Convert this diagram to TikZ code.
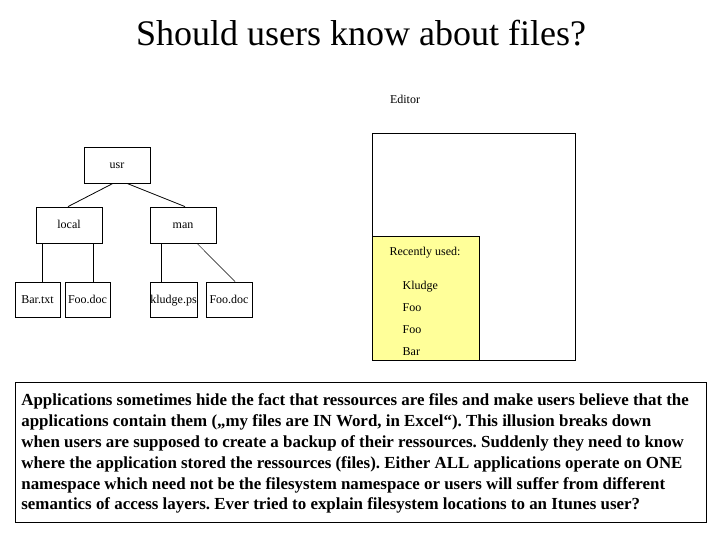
\documentclass[tikz,border=0pt]{standalone}
\usepackage{fontspec}
\setmainfont{Liberation Serif}
\usetikzlibrary{calc}
\definecolor{memo}{RGB}{255,255,153}
\frenchspacing
\begin{document}
\begin{tikzpicture}[x=1pt,y=-1pt,line width=0.8pt,
  dir/.style={draw,inner sep=0pt,minimum width=66pt,minimum height=36pt,text height=8pt,text depth=0pt,font=\fontsize{12}{14}\selectfont},
  file/.style={draw,inner sep=0pt,minimum height=35pt,text height=8pt,text depth=0pt,font=\fontsize{12}{14}\selectfont},
  small/.style={font=\fontsize{12}{14}\selectfont}]
 \useasboundingbox (0,0) rectangle (720,540);
 \node[font=\fontsize{36}{43}\selectfont] (title) at (361,33) {Should users know about files?};
 % tree
 \node[dir] (usr) at (117,165) {usr};
 \node[dir] (local) at (69,225) {local};
 \node[dir] (man) at (183,225) {man};
 \node[file,minimum width=45pt] (bartxt) at (37.5,299.5) {Bar.txt};
 \node[file,minimum width=45pt] (foodoc) at (87.5,299.5) {Foo.doc};
 \node[file,minimum width=47pt] (kludgeps) at (173.5,299.5) {kludge.ps};
 \node[file,minimum width=46pt] (foodocb) at (229,299.5) {Foo.doc};
 \draw ($(usr.south west)!0.44!(usr.south east)$) -- ($(local.north west)!0.485!(local.north east)$);
 \draw ($(usr.south west)!0.65!(usr.south east)$) -- ($(man.north west)!0.53!(man.north east)$);
 \coordinate (l1) at ($(local.south west)!0.106!(local.south east)$);
 \coordinate (l2) at ($(local.south west)!0.86!(local.south east)$);
 \coordinate (m1) at ($(man.south west)!0.18!(man.south east)$);
 \draw (l1) -- (l1 |- bartxt.north);
 \draw (l2) -- (l2 |- foodoc.north);
 \draw (m1) -- (m1 |- kludgeps.north);
 \draw[line width=0.5pt] ($(man.south west)!0.71!(man.south east)$) -- ($(foodocb.north west)!0.63!(foodocb.north east)$);
 % editor
 \node[small] (editorlabel) at (405,99) {Editor};
 \node[draw,minimum width=203pt,minimum height=227pt,anchor=north west] (editor) at (372,133) {};
 \node[draw,fill=memo,minimum width=107pt,minimum height=124pt,anchor=north west] (recent) at (372,236) {};
 \node[small] (recentlabel) at (425,253) {Recently used:};
 \node[small,anchor=west] (r1) at (399,287) {Kludge};
 \node[small,anchor=west] (r2) at (399,308) {Foo};
 \node[small,anchor=west] (r3) at (399,330) {Foo};
 \node[small,anchor=west] (r4) at (399,352) {Bar};
 % note
 \node[draw,minimum width=691pt,minimum height=140pt,anchor=north west] (note) at (15,382) {};
 \node[anchor=north west,inner sep=0pt,align=left,
   font=\bfseries\fontsize{16.9}{20.8}\selectfont] (notetext) at (21,393.5)
  {Applications sometimes hide the fact that ressources are files and make users believe that the\\
   applications contain them („my files are IN Word, in Excel“). This illusion breaks down\\
   when users are supposed to create a backup of their ressources. Suddenly they need to know\\
   where the application stored the ressources (files). Either ALL applications operate on ONE\\
   namespace which need not be the filesystem namespace or users will suffer from different\\
   semantics of access layers. Ever tried to explain filesystem locations to an Itunes user?};
\end{tikzpicture}
\end{document}
